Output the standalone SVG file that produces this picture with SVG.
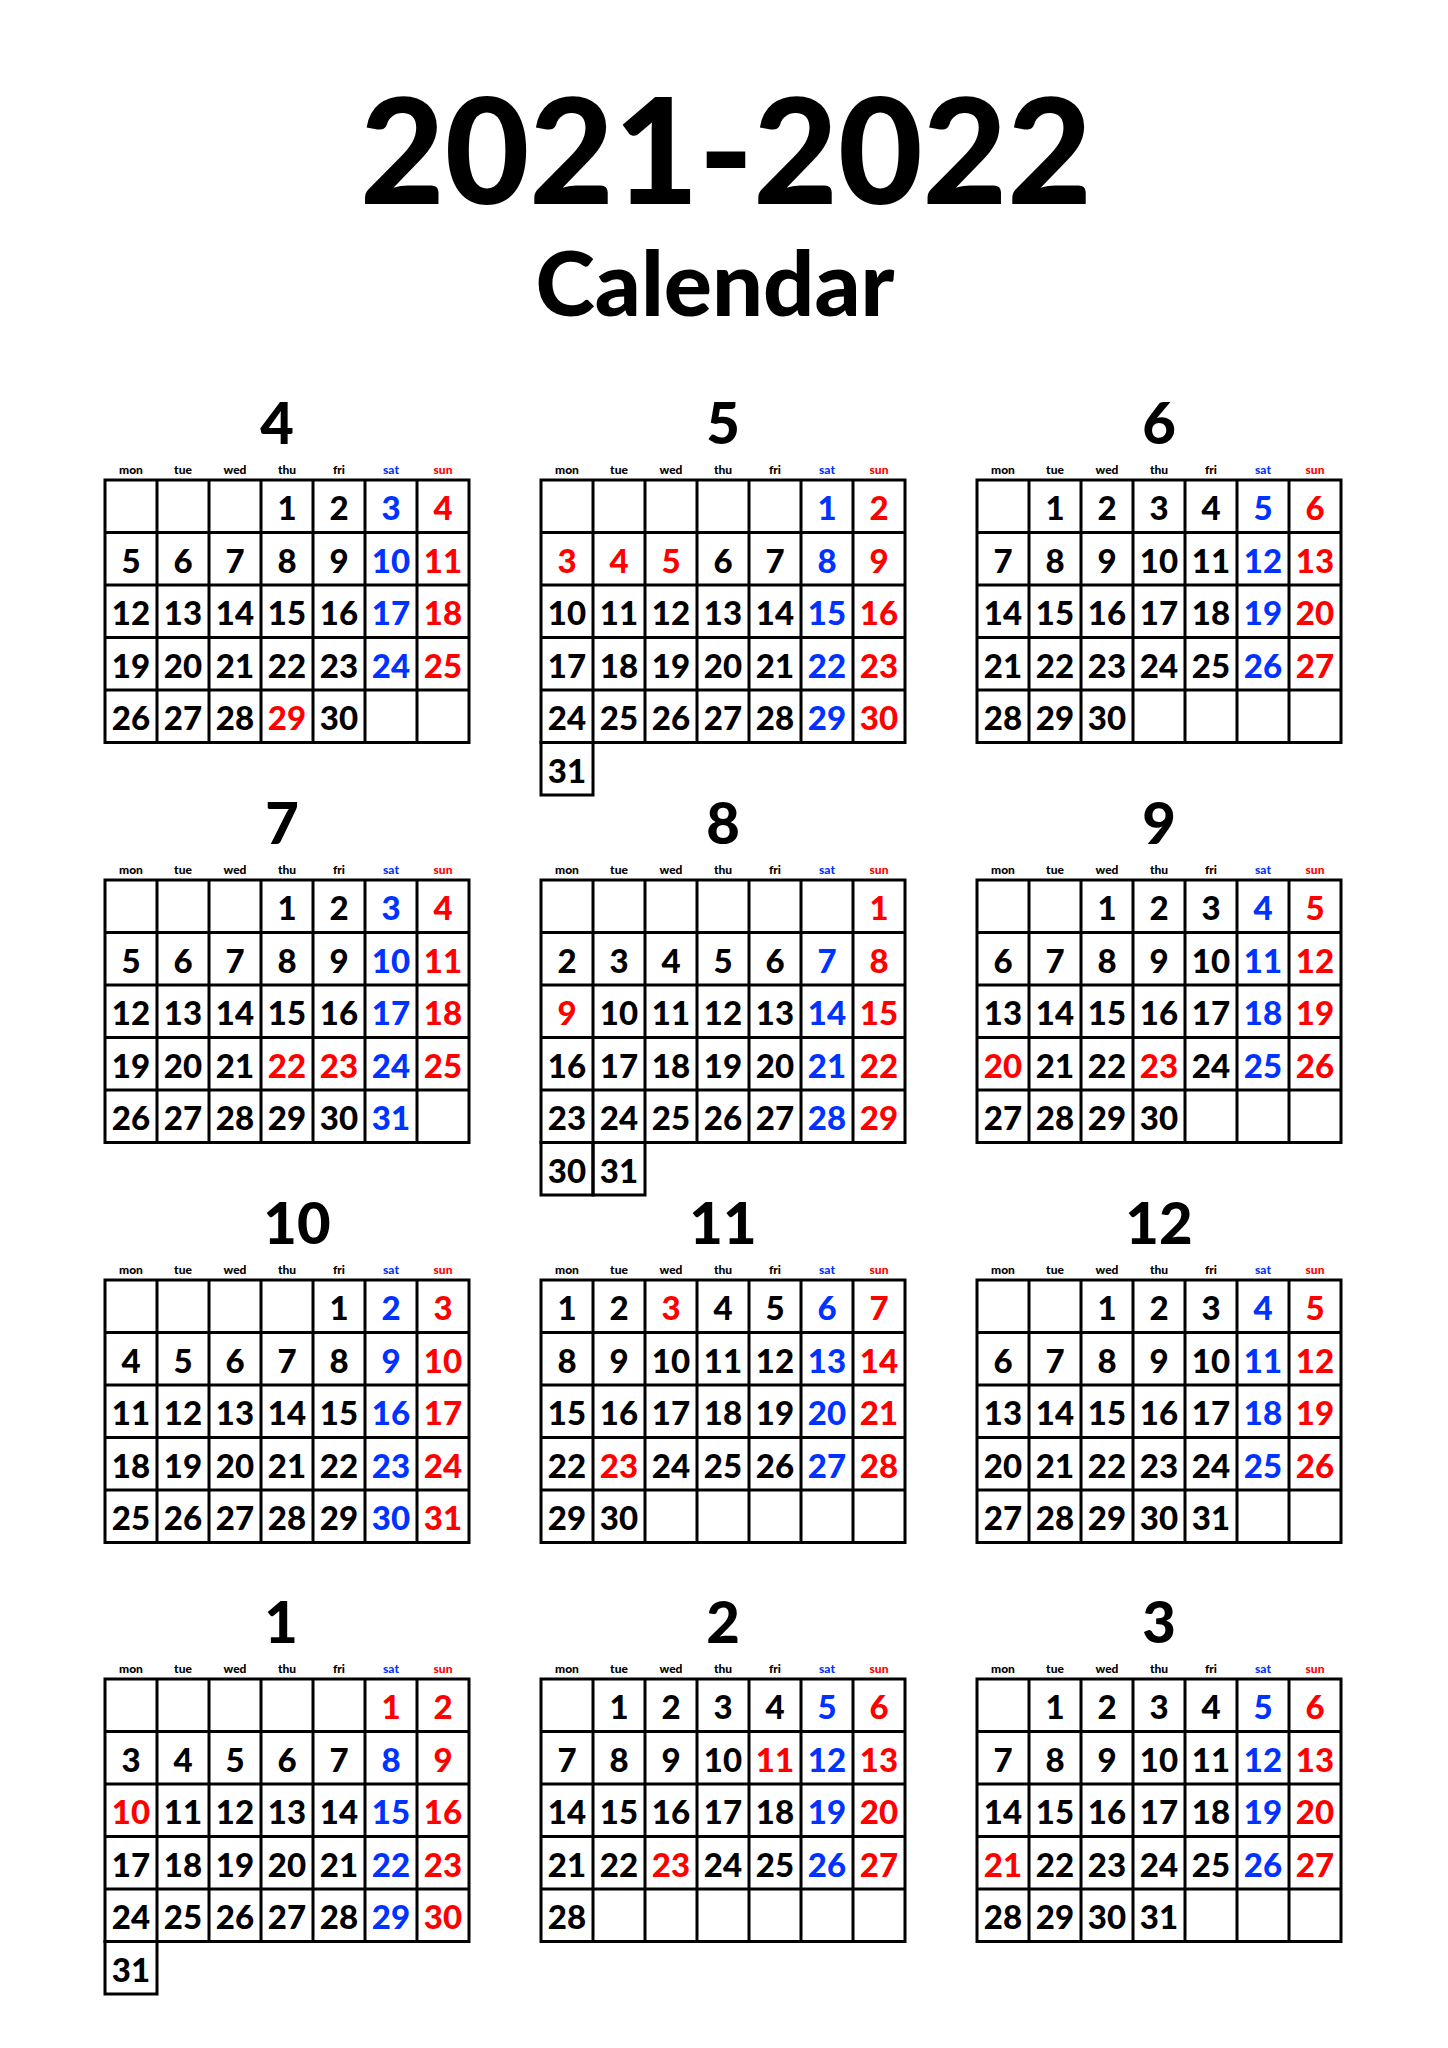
<svg xmlns="http://www.w3.org/2000/svg" xmlns:xlink="http://www.w3.org/1999/xlink" width="1448" height="2048" viewBox="0 0 1448 2048">
<style>
text{font-family:Lato,"DejaVu Sans",sans-serif;font-weight:900;text-anchor:middle;fill:#000}
.d{font-size:33px}
.b{fill:#0033ff}
.r{fill:#ff0000}
.wd{font-size:12px}
.m{font-size:58px}
.g{fill:none;stroke:#000;stroke-width:3}
</style>
<defs>
<g id="grid"><path class="g" d="M0 0H364V262.5H0Z M52 0V262.5M104 0V262.5M156 0V262.5M208 0V262.5M260 0V262.5M312 0V262.5M0 52.5H364M0 105H364M0 157.5H364M0 210H364"/></g>
<g id="wk"><text class="wd" x="26" y="-6">mon</text><text class="wd" x="78" y="-6">tue</text><text class="wd" x="130" y="-6">wed</text><text class="wd" x="182" y="-6">thu</text><text class="wd" x="234" y="-6">fri</text><text class="wd b" x="286" y="-6">sat</text><text class="wd r" x="338" y="-6">sun</text></g>
</defs>
<rect width="1448" height="2048" fill="#fff"/>
<g id="title"><text x="726" y="204" style="font-size:146px">2021-2022</text><text x="715" y="316" style="font-size:90px">Calendar</text></g>

<g id="m4" transform="translate(105,480)"><use href="#grid"/><use href="#wk"/><text class="m" x="172" y="-36">4</text>
<g class="d"><text x="182" y="40">1</text><text x="234" y="40">2</text><text class="b" x="286" y="40">3</text><text class="r" x="338" y="40">4</text>
<text x="26" y="92.5">5</text><text x="78" y="92.5">6</text><text x="130" y="92.5">7</text><text x="182" y="92.5">8</text><text x="234" y="92.5">9</text><text class="b" x="286" y="92.5">10</text><text class="r" x="338" y="92.5">11</text>
<text x="26" y="145">12</text><text x="78" y="145">13</text><text x="130" y="145">14</text><text x="182" y="145">15</text><text x="234" y="145">16</text><text class="b" x="286" y="145">17</text><text class="r" x="338" y="145">18</text>
<text x="26" y="197.5">19</text><text x="78" y="197.5">20</text><text x="130" y="197.5">21</text><text x="182" y="197.5">22</text><text x="234" y="197.5">23</text><text class="b" x="286" y="197.5">24</text><text class="r" x="338" y="197.5">25</text>
<text x="26" y="250">26</text><text x="78" y="250">27</text><text x="130" y="250">28</text><text class="r" x="182" y="250">29</text><text x="234" y="250">30</text></g></g>

<g id="m5" transform="translate(541,480)"><use href="#grid"/><use href="#wk"/><rect class="g" x="0" y="262.5" width="52" height="52.5"/><text class="m" x="182" y="-36">5</text>
<g class="d"><text class="b" x="286" y="40">1</text><text class="r" x="338" y="40">2</text>
<text class="r" x="26" y="92.5">3</text><text class="r" x="78" y="92.5">4</text><text class="r" x="130" y="92.5">5</text><text x="182" y="92.5">6</text><text x="234" y="92.5">7</text><text class="b" x="286" y="92.5">8</text><text class="r" x="338" y="92.5">9</text>
<text x="26" y="145">10</text><text x="78" y="145">11</text><text x="130" y="145">12</text><text x="182" y="145">13</text><text x="234" y="145">14</text><text class="b" x="286" y="145">15</text><text class="r" x="338" y="145">16</text>
<text x="26" y="197.5">17</text><text x="78" y="197.5">18</text><text x="130" y="197.5">19</text><text x="182" y="197.5">20</text><text x="234" y="197.5">21</text><text class="b" x="286" y="197.5">22</text><text class="r" x="338" y="197.5">23</text>
<text x="26" y="250">24</text><text x="78" y="250">25</text><text x="130" y="250">26</text><text x="182" y="250">27</text><text x="234" y="250">28</text><text class="b" x="286" y="250">29</text><text class="r" x="338" y="250">30</text>
<text x="26" y="302.5">31</text></g></g>

<g id="m6" transform="translate(977,480)"><use href="#grid"/><use href="#wk"/><text class="m" x="182" y="-36">6</text>
<g class="d"><text x="78" y="40">1</text><text x="130" y="40">2</text><text x="182" y="40">3</text><text x="234" y="40">4</text><text class="b" x="286" y="40">5</text><text class="r" x="338" y="40">6</text>
<text x="26" y="92.5">7</text><text x="78" y="92.5">8</text><text x="130" y="92.5">9</text><text x="182" y="92.5">10</text><text x="234" y="92.5">11</text><text class="b" x="286" y="92.5">12</text><text class="r" x="338" y="92.5">13</text>
<text x="26" y="145">14</text><text x="78" y="145">15</text><text x="130" y="145">16</text><text x="182" y="145">17</text><text x="234" y="145">18</text><text class="b" x="286" y="145">19</text><text class="r" x="338" y="145">20</text>
<text x="26" y="197.5">21</text><text x="78" y="197.5">22</text><text x="130" y="197.5">23</text><text x="182" y="197.5">24</text><text x="234" y="197.5">25</text><text class="b" x="286" y="197.5">26</text><text class="r" x="338" y="197.5">27</text>
<text x="26" y="250">28</text><text x="78" y="250">29</text><text x="130" y="250">30</text></g></g>

<g id="m7" transform="translate(105,880)"><use href="#grid"/><use href="#wk"/><text class="m" x="177" y="-36">7</text>
<g class="d"><text x="182" y="40">1</text><text x="234" y="40">2</text><text class="b" x="286" y="40">3</text><text class="r" x="338" y="40">4</text>
<text x="26" y="92.5">5</text><text x="78" y="92.5">6</text><text x="130" y="92.5">7</text><text x="182" y="92.5">8</text><text x="234" y="92.5">9</text><text class="b" x="286" y="92.5">10</text><text class="r" x="338" y="92.5">11</text>
<text x="26" y="145">12</text><text x="78" y="145">13</text><text x="130" y="145">14</text><text x="182" y="145">15</text><text x="234" y="145">16</text><text class="b" x="286" y="145">17</text><text class="r" x="338" y="145">18</text>
<text x="26" y="197.5">19</text><text x="78" y="197.5">20</text><text x="130" y="197.5">21</text><text class="r" x="182" y="197.5">22</text><text class="r" x="234" y="197.5">23</text><text class="b" x="286" y="197.5">24</text><text class="r" x="338" y="197.5">25</text>
<text x="26" y="250">26</text><text x="78" y="250">27</text><text x="130" y="250">28</text><text x="182" y="250">29</text><text x="234" y="250">30</text><text class="b" x="286" y="250">31</text></g></g>

<g id="m8" transform="translate(541,880)"><use href="#grid"/><use href="#wk"/><rect class="g" x="0" y="262.5" width="52" height="52.5"/><rect class="g" x="52" y="262.5" width="52" height="52.5"/><text class="m" x="182" y="-36">8</text>
<g class="d"><text class="r" x="338" y="40">1</text>
<text x="26" y="92.5">2</text><text x="78" y="92.5">3</text><text x="130" y="92.5">4</text><text x="182" y="92.5">5</text><text x="234" y="92.5">6</text><text class="b" x="286" y="92.5">7</text><text class="r" x="338" y="92.5">8</text>
<text class="r" x="26" y="145">9</text><text x="78" y="145">10</text><text x="130" y="145">11</text><text x="182" y="145">12</text><text x="234" y="145">13</text><text class="b" x="286" y="145">14</text><text class="r" x="338" y="145">15</text>
<text x="26" y="197.5">16</text><text x="78" y="197.5">17</text><text x="130" y="197.5">18</text><text x="182" y="197.5">19</text><text x="234" y="197.5">20</text><text class="b" x="286" y="197.5">21</text><text class="r" x="338" y="197.5">22</text>
<text x="26" y="250">23</text><text x="78" y="250">24</text><text x="130" y="250">25</text><text x="182" y="250">26</text><text x="234" y="250">27</text><text class="b" x="286" y="250">28</text><text class="r" x="338" y="250">29</text>
<text x="26" y="302.5">30</text><text x="78" y="302.5">31</text></g></g>

<g id="m9" transform="translate(977,880)"><use href="#grid"/><use href="#wk"/><text class="m" x="182" y="-36">9</text>
<g class="d"><text x="130" y="40">1</text><text x="182" y="40">2</text><text x="234" y="40">3</text><text class="b" x="286" y="40">4</text><text class="r" x="338" y="40">5</text>
<text x="26" y="92.5">6</text><text x="78" y="92.5">7</text><text x="130" y="92.5">8</text><text x="182" y="92.5">9</text><text x="234" y="92.5">10</text><text class="b" x="286" y="92.5">11</text><text class="r" x="338" y="92.5">12</text>
<text x="26" y="145">13</text><text x="78" y="145">14</text><text x="130" y="145">15</text><text x="182" y="145">16</text><text x="234" y="145">17</text><text class="b" x="286" y="145">18</text><text class="r" x="338" y="145">19</text>
<text class="r" x="26" y="197.5">20</text><text x="78" y="197.5">21</text><text x="130" y="197.5">22</text><text class="r" x="182" y="197.5">23</text><text x="234" y="197.5">24</text><text class="b" x="286" y="197.5">25</text><text class="r" x="338" y="197.5">26</text>
<text x="26" y="250">27</text><text x="78" y="250">28</text><text x="130" y="250">29</text><text x="182" y="250">30</text></g></g>

<g id="m10" transform="translate(105,1280)"><use href="#grid"/><use href="#wk"/><text class="m" x="192" y="-36">10</text>
<g class="d"><text x="234" y="40">1</text><text class="b" x="286" y="40">2</text><text class="r" x="338" y="40">3</text>
<text x="26" y="92.5">4</text><text x="78" y="92.5">5</text><text x="130" y="92.5">6</text><text x="182" y="92.5">7</text><text x="234" y="92.5">8</text><text class="b" x="286" y="92.5">9</text><text class="r" x="338" y="92.5">10</text>
<text x="26" y="145">11</text><text x="78" y="145">12</text><text x="130" y="145">13</text><text x="182" y="145">14</text><text x="234" y="145">15</text><text class="b" x="286" y="145">16</text><text class="r" x="338" y="145">17</text>
<text x="26" y="197.5">18</text><text x="78" y="197.5">19</text><text x="130" y="197.5">20</text><text x="182" y="197.5">21</text><text x="234" y="197.5">22</text><text class="b" x="286" y="197.5">23</text><text class="r" x="338" y="197.5">24</text>
<text x="26" y="250">25</text><text x="78" y="250">26</text><text x="130" y="250">27</text><text x="182" y="250">28</text><text x="234" y="250">29</text><text class="b" x="286" y="250">30</text><text class="r" x="338" y="250">31</text></g></g>

<g id="m11" transform="translate(541,1280)"><use href="#grid"/><use href="#wk"/><text class="m" x="182" y="-36">11</text>
<g class="d"><text x="26" y="40">1</text><text x="78" y="40">2</text><text class="r" x="130" y="40">3</text><text x="182" y="40">4</text><text x="234" y="40">5</text><text class="b" x="286" y="40">6</text><text class="r" x="338" y="40">7</text>
<text x="26" y="92.5">8</text><text x="78" y="92.5">9</text><text x="130" y="92.5">10</text><text x="182" y="92.5">11</text><text x="234" y="92.5">12</text><text class="b" x="286" y="92.5">13</text><text class="r" x="338" y="92.5">14</text>
<text x="26" y="145">15</text><text x="78" y="145">16</text><text x="130" y="145">17</text><text x="182" y="145">18</text><text x="234" y="145">19</text><text class="b" x="286" y="145">20</text><text class="r" x="338" y="145">21</text>
<text x="26" y="197.5">22</text><text class="r" x="78" y="197.5">23</text><text x="130" y="197.5">24</text><text x="182" y="197.5">25</text><text x="234" y="197.5">26</text><text class="b" x="286" y="197.5">27</text><text class="r" x="338" y="197.5">28</text>
<text x="26" y="250">29</text><text x="78" y="250">30</text></g></g>

<g id="m12" transform="translate(977,1280)"><use href="#grid"/><use href="#wk"/><text class="m" x="182" y="-36">12</text>
<g class="d"><text x="130" y="40">1</text><text x="182" y="40">2</text><text x="234" y="40">3</text><text class="b" x="286" y="40">4</text><text class="r" x="338" y="40">5</text>
<text x="26" y="92.5">6</text><text x="78" y="92.5">7</text><text x="130" y="92.5">8</text><text x="182" y="92.5">9</text><text x="234" y="92.5">10</text><text class="b" x="286" y="92.5">11</text><text class="r" x="338" y="92.5">12</text>
<text x="26" y="145">13</text><text x="78" y="145">14</text><text x="130" y="145">15</text><text x="182" y="145">16</text><text x="234" y="145">17</text><text class="b" x="286" y="145">18</text><text class="r" x="338" y="145">19</text>
<text x="26" y="197.5">20</text><text x="78" y="197.5">21</text><text x="130" y="197.5">22</text><text x="182" y="197.5">23</text><text x="234" y="197.5">24</text><text class="b" x="286" y="197.5">25</text><text class="r" x="338" y="197.5">26</text>
<text x="26" y="250">27</text><text x="78" y="250">28</text><text x="130" y="250">29</text><text x="182" y="250">30</text><text x="234" y="250">31</text></g></g>

<g id="m1" transform="translate(105,1679)"><use href="#grid"/><use href="#wk"/><rect class="g" x="0" y="262.5" width="52" height="52.5"/><text class="m" x="176" y="-36">1</text>
<g class="d"><text class="r" x="286" y="40">1</text><text class="r" x="338" y="40">2</text>
<text x="26" y="92.5">3</text><text x="78" y="92.5">4</text><text x="130" y="92.5">5</text><text x="182" y="92.5">6</text><text x="234" y="92.5">7</text><text class="b" x="286" y="92.5">8</text><text class="r" x="338" y="92.5">9</text>
<text class="r" x="26" y="145">10</text><text x="78" y="145">11</text><text x="130" y="145">12</text><text x="182" y="145">13</text><text x="234" y="145">14</text><text class="b" x="286" y="145">15</text><text class="r" x="338" y="145">16</text>
<text x="26" y="197.5">17</text><text x="78" y="197.5">18</text><text x="130" y="197.5">19</text><text x="182" y="197.5">20</text><text x="234" y="197.5">21</text><text class="b" x="286" y="197.5">22</text><text class="r" x="338" y="197.5">23</text>
<text x="26" y="250">24</text><text x="78" y="250">25</text><text x="130" y="250">26</text><text x="182" y="250">27</text><text x="234" y="250">28</text><text class="b" x="286" y="250">29</text><text class="r" x="338" y="250">30</text>
<text x="26" y="302.5">31</text></g></g>

<g id="m2" transform="translate(541,1679)"><use href="#grid"/><use href="#wk"/><text class="m" x="182" y="-36">2</text>
<g class="d"><text x="78" y="40">1</text><text x="130" y="40">2</text><text x="182" y="40">3</text><text x="234" y="40">4</text><text class="b" x="286" y="40">5</text><text class="r" x="338" y="40">6</text>
<text x="26" y="92.5">7</text><text x="78" y="92.5">8</text><text x="130" y="92.5">9</text><text x="182" y="92.5">10</text><text class="r" x="234" y="92.5">11</text><text class="b" x="286" y="92.5">12</text><text class="r" x="338" y="92.5">13</text>
<text x="26" y="145">14</text><text x="78" y="145">15</text><text x="130" y="145">16</text><text x="182" y="145">17</text><text x="234" y="145">18</text><text class="b" x="286" y="145">19</text><text class="r" x="338" y="145">20</text>
<text x="26" y="197.5">21</text><text x="78" y="197.5">22</text><text class="r" x="130" y="197.5">23</text><text x="182" y="197.5">24</text><text x="234" y="197.5">25</text><text class="b" x="286" y="197.5">26</text><text class="r" x="338" y="197.5">27</text>
<text x="26" y="250">28</text></g></g>

<g id="m3" transform="translate(977,1679)"><use href="#grid"/><use href="#wk"/><text class="m" x="182" y="-36">3</text>
<g class="d"><text x="78" y="40">1</text><text x="130" y="40">2</text><text x="182" y="40">3</text><text x="234" y="40">4</text><text class="b" x="286" y="40">5</text><text class="r" x="338" y="40">6</text>
<text x="26" y="92.5">7</text><text x="78" y="92.5">8</text><text x="130" y="92.5">9</text><text x="182" y="92.5">10</text><text x="234" y="92.5">11</text><text class="b" x="286" y="92.5">12</text><text class="r" x="338" y="92.5">13</text>
<text x="26" y="145">14</text><text x="78" y="145">15</text><text x="130" y="145">16</text><text x="182" y="145">17</text><text x="234" y="145">18</text><text class="b" x="286" y="145">19</text><text class="r" x="338" y="145">20</text>
<text class="r" x="26" y="197.5">21</text><text x="78" y="197.5">22</text><text x="130" y="197.5">23</text><text x="182" y="197.5">24</text><text x="234" y="197.5">25</text><text class="b" x="286" y="197.5">26</text><text class="r" x="338" y="197.5">27</text>
<text x="26" y="250">28</text><text x="78" y="250">29</text><text x="130" y="250">30</text><text x="182" y="250">31</text></g></g>
</svg>
